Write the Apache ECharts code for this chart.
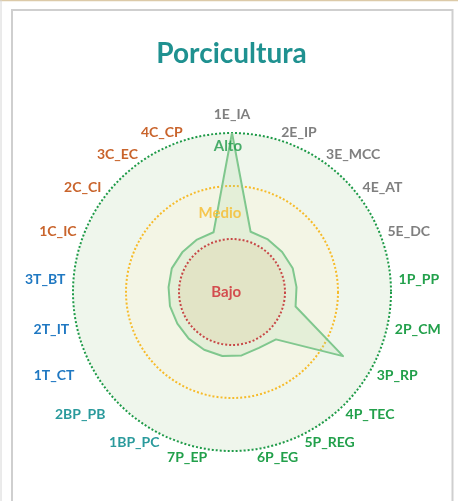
<!DOCTYPE html>
<html>
<head>
<meta charset="utf-8">
<script src="https://cdn.jsdelivr.net/npm/echarts@6/dist/echarts.min.js"></script>
<style>
  html, body { margin: 0; padding: 0; background: #ffffff; }
  #chart { width: 463px; height: 501px; }
</style>
</head>
<body>
<div id="chart"></div>
<script>
// Indicator names around the radar, clockwise from the top
const indicators = ['1E_IA', '2E_IP', '3E_MCC', '4E_AT', '5E_DC',
  '1P_PP', '2P_CM', '3P_RP', '4P_TEC', '5P_REG', '6P_EG', '7P_EP',
  '1BP_PC', '2BP_PB', '1T_CT', '2T_IT', '3T_BT',
  '1C_IC', '2C_CI', '3C_EC', '4C_CP'];

// Group of each indicator (sets the label colour)
const groups = ['E', 'E', 'E', 'E', 'E',
  'P', 'P', 'P', 'P', 'P', 'P', 'P',
  'BP', 'BP', 'T', 'T', 'T',
  'C', 'C', 'C', 'C'];

// Score per indicator (1 = Bajo, 2 = Medio, 3 = Alto)
const scores = [3.0, 1.19, 1.2, 1.21, 1.23,
  1.22, 1.23, 2.42, 1.22, 1.17, 1.21, 1.22,
  1.21, 1.2, 1.19, 1.2, 1.2,
  1.22, 1.2, 1.19, 1.18];

// Level names and where their captions sit (radius, angle clockwise from top)
const levelNames = ['Bajo', 'Medio', 'Alto'];
const levelCaptionPos = [[0.11, 270], [1.51, 351.4], [2.76, 358.4]];

const groupColors = { E: '#7f7f7f', P: '#22a04b', BP: '#2a9a9c', T: '#1f78c2', C: '#c9642c' };
const levelColors = ['#cf2630', '#f6bb2a', '#1e9a48'];

const CX = 232, CY = 292, R = 159, MAXV = 3;
const FONT = 'Lato';

// A few names sit a little further out than the default gap
const namePadding = { '1E_IA': [0, 0, 4, 0], '1T_CT': [0, 13, 0, 0], '2BP_PB': [0, 13, 0, 0] };

// The radar coordinate lays indicators out counter-clockwise; keep the first
// one at the top and walk the rest backwards so they read clockwise.
const order = [0].concat(indicators.map((_, i) => i).slice(1).reverse());
const radarIndicators = order.map(i => ({ name: indicators[i], min: 0, max: MAXV, color: groupColors[groups[i]] }));
const radarValues = order.map(i => scores[i]);

const nameRich = {};
indicators.forEach((n, i) => {
  if (namePadding[n]) {
    nameRich['p' + i] = {
      color: groupColors[groups[i]], fontFamily: FONT, fontWeight: 'bold', fontSize: 14,
      padding: namePadding[n]
    };
  }
});

const chart = echarts.init(document.getElementById('chart'), null, { renderer: 'canvas' });

chart.setOption({
  backgroundColor: '#ffffff',
  animation: false,
  title: {
    text: 'Porcicultura',
    left: 'center',
    top: 35,
    textStyle: { color: '#1f9190', fontFamily: FONT, fontWeight: 'bold', fontSize: 28 }
  },
  graphic: [
    { type: 'line', shape: { x1: 0, y1: 0.5, x2: 458, y2: 0.5 }, style: { stroke: '#dccaa8', lineWidth: 1.5 }, z: 1 },
    { type: 'line', shape: { x1: 1, y1: 0, x2: 1, y2: 501 }, style: { stroke: '#d6d6d6', lineWidth: 1 }, z: 1 },
    { type: 'polyline', shape: { points: [[12, 501], [12, 10], [452.5, 10], [452.5, 501]] },
      style: { stroke: '#cfcfcf', lineWidth: 2, fill: null }, z: 1 }
  ],
  radar: {
    center: [CX, CY],
    radius: R,
    shape: 'circle',
    splitNumber: 3,
    startAngle: 90,
    indicator: radarIndicators,
    axisName: {
      fontFamily: FONT, fontWeight: 'bold', fontSize: 14,
      formatter: name => {
        const i = indicators.indexOf(name);
        return namePadding[name] ? '{p' + i + '|' + name + '}' : name;
      },
      rich: nameRich
    },
    nameGap: 8,
    axisLine: { show: false },
    axisTick: { show: false },
    axisLabel: { show: false },
    splitLine: {
      show: true,
      lineStyle: { color: ['rgba(0,0,0,0)', levelColors[0], levelColors[1], levelColors[2]], width: 2, type: [2, 2] }
    },
    splitArea: {
      show: true,
      areaStyle: { color: ['#f1e8cf', '#f3f5e5', '#eff6ec'] }
    }
  },
  polar: { center: [CX, CY], radius: R },
  angleAxis: { type: 'value', min: 0, max: 360, startAngle: 90, clockwise: true, show: false },
  radiusAxis: { type: 'value', min: 0, max: MAXV, show: false },
  series: [
    {
      type: 'radar',
      symbol: 'none',
      lineStyle: { color: '#7cc68c', width: 2 },
      areaStyle: { color: 'rgba(167,213,165,0.28)' },
      data: [{ value: radarValues, name: 'Porcicultura' }],
      z: 3
    },
    {
      type: 'scatter',
      coordinateSystem: 'polar',
      symbolSize: 0,
      z: 4,
      label: {
        show: true,
        position: 'inside',
        fontFamily: FONT,
        fontWeight: 'bold',
        fontSize: 15,
        formatter: p => p.name
      },
      data: levelNames.map((n, i) => ({
        name: n,
        value: levelCaptionPos[i],
        label: { color: levelColors[i] }
      }))
    }
  ]
});
</script>
</body>
</html>
